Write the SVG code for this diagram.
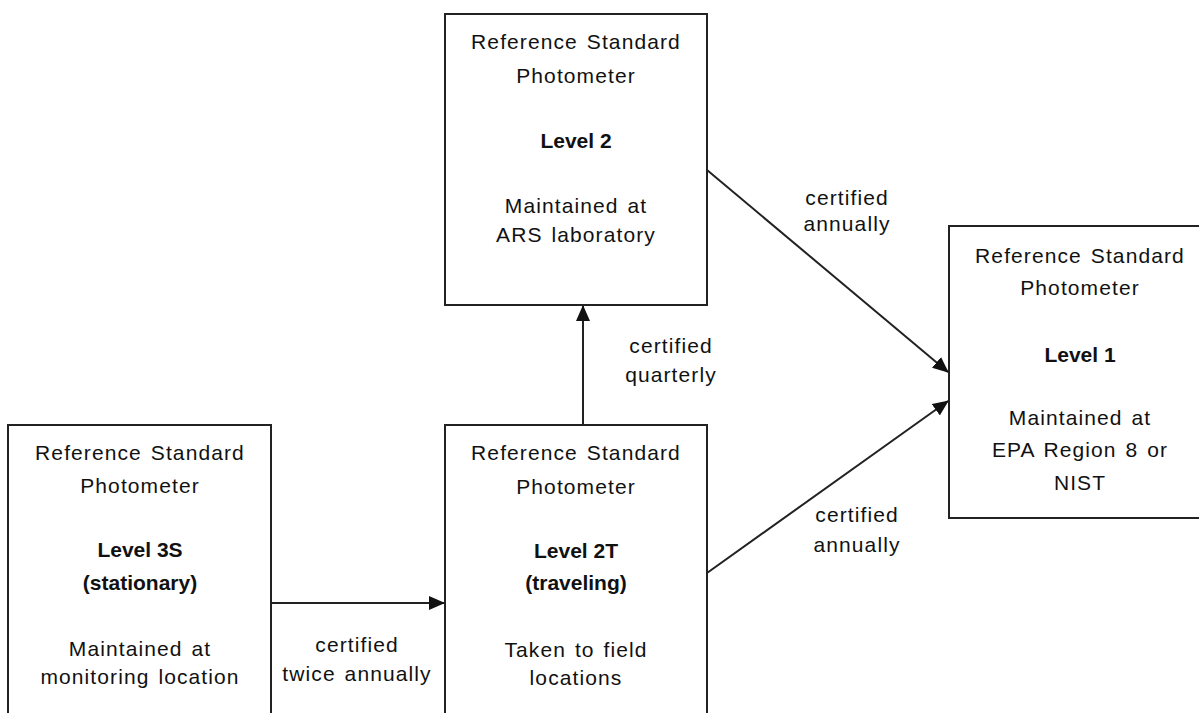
<svg xmlns="http://www.w3.org/2000/svg" width="1199" height="713" viewBox="0 0 1199 713">
<style>
.box{fill:#fff;stroke:#222;stroke-width:2}
.t{font-family:"Liberation Sans",Arial,sans-serif;font-size:21px;fill:#111;text-anchor:middle;letter-spacing:1.1px;word-spacing:2px}
.b{font-family:"Liberation Sans",Arial,sans-serif;font-size:21px;font-weight:bold;fill:#111;text-anchor:middle}
.c{fill:none;stroke:#222;stroke-width:2}
</style>
<defs>
<marker id="arr" markerUnits="userSpaceOnUse" markerWidth="16" markerHeight="14" refX="15" refY="7" orient="auto">
<path d="M0,0 L16,7 L0,14 z" fill="#111"/>
</marker>
</defs>
<rect width="1199" height="713" fill="#fff"/>
<g id="connectors">
<line class="c" x1="272" y1="603" x2="444" y2="603" marker-end="url(#arr)"/>
<line class="c" x1="583" y1="425" x2="583" y2="306" marker-end="url(#arr)"/>
<line class="c" x1="707" y1="170" x2="948" y2="372" marker-end="url(#arr)"/>
<line class="c" x1="707" y1="573" x2="948" y2="401" marker-end="url(#arr)"/>
<text class="t" x="357" y="652">certified</text>
<text class="t" x="357" y="681">twice annually</text>
<text class="t" x="671" y="353">certified</text>
<text class="t" x="671" y="382">quarterly</text>
<text class="t" x="847" y="205">certified</text>
<text class="t" x="847" y="231">annually</text>
<text class="t" x="857" y="522">certified</text>
<text class="t" x="857" y="552">annually</text>
</g>
<g id="level2">
<rect class="box" x="445" y="14" width="262" height="291"/>
<text class="t" x="576" y="49">Reference Standard</text>
<text class="t" x="576" y="83">Photometer</text>
<text class="b" x="576" y="148">Level 2</text>
<text class="t" x="576" y="213">Maintained at</text>
<text class="t" x="576" y="242">ARS laboratory</text>
</g>
<g id="level1">
<rect class="box" x="949" y="226" width="270" height="292"/>
<text class="t" x="1080" y="263">Reference Standard</text>
<text class="t" x="1080" y="295">Photometer</text>
<text class="b" x="1080" y="362">Level 1</text>
<text class="t" x="1080" y="425">Maintained at</text>
<text class="t" x="1080" y="457">EPA Region 8 or</text>
<text class="t" x="1080" y="490">NIST</text>
</g>
<g id="level3s">
<rect class="box" x="8" y="425" width="263" height="300"/>
<text class="t" x="140" y="460">Reference Standard</text>
<text class="t" x="140" y="493">Photometer</text>
<text class="b" x="140" y="557">Level 3S</text>
<text class="b" x="140" y="590">(stationary)</text>
<text class="t" x="140" y="656">Maintained at</text>
<text class="t" x="140" y="684">monitoring location</text>
</g>
<g id="level2t">
<rect class="box" x="445" y="425" width="262" height="300"/>
<text class="t" x="576" y="460">Reference Standard</text>
<text class="t" x="576" y="494">Photometer</text>
<text class="b" x="576" y="558">Level 2T</text>
<text class="b" x="576" y="590">(traveling)</text>
<text class="t" x="576" y="657">Taken to field</text>
<text class="t" x="576" y="685">locations</text>
</g>
</svg>
